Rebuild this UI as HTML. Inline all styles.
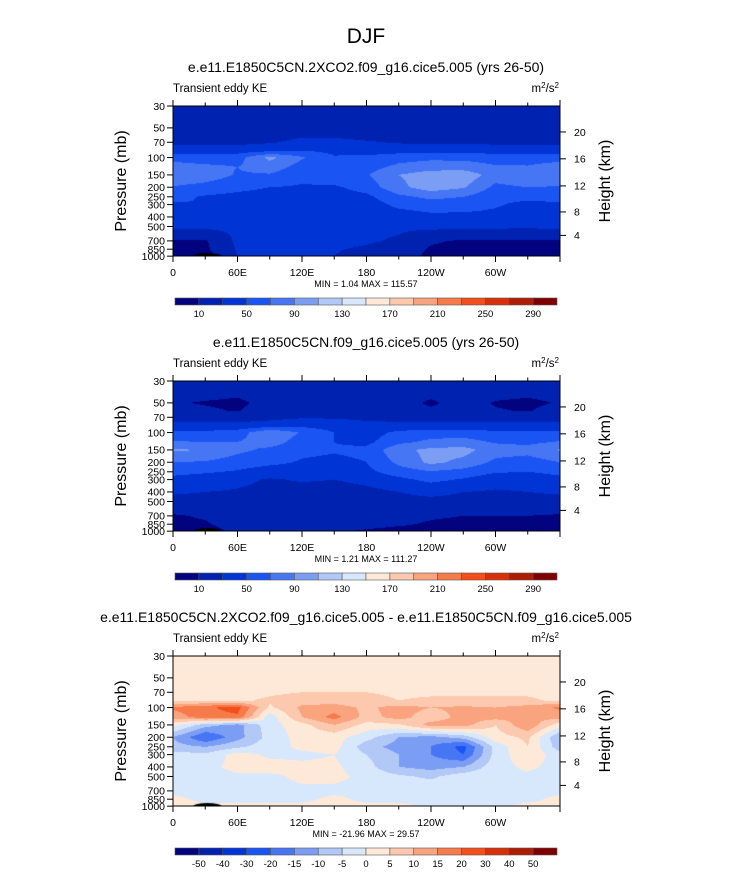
<!DOCTYPE html>
<html><head><meta charset="utf-8"><style>
html,body{margin:0;padding:0;background:#fff;}
#wrap{position:relative;width:733px;height:872px;overflow:hidden;font-family:"Liberation Sans",sans-serif;}
canvas{position:absolute;}
svg{position:absolute;left:0;top:0;}
</style></head><body>
<div id="wrap">
<canvas id="c0" width="387" height="150" style="left:173px;top:106px"></canvas>
<canvas id="c1" width="387" height="150" style="left:173px;top:381px"></canvas>
<canvas id="c2" width="387" height="150" style="left:173px;top:656px"></canvas>
<svg id="svg" width="733" height="872"></svg>
</div>
<script>
const lons = [0,30,60,90,120,150,180,210,240,270,300,330,360];
const pres = [30,50,60,70,85,100,125,150,200,250,300,400,500,700,850,1000];
const keLevels = [10,30,50,70,90,110,130,150,170,190,210,230,250,270,290];
const keLabels = ["10","50","90","130","170","210","250","290"];
const diffLevels = [-50,-40,-30,-20,-15,-10,-5,0,5,10,15,20,30,40,50];
const diffLabels = ["-50","-40","-30","-20","-15","-10","-5","0","5","10","15","20","30","40","50"];
const palette = ["#03037f","#0022b0","#0034d4","#1a55f4","#4676f4","#7b9ef4","#b2c9f8","#d8e8fc","#fee9d9","#fcc8ae","#f9a47e","#f67a4a","#f44e1c","#d9300a","#ae1c04","#7f0000"];
const pTicks = [30,50,70,100,150,200,250,300,400,500,700,850,1000];
const hTicks = [4,8,12,16,20];
const hPres = [616,356,194,103,55];
const xTickLabels = ["0","60E","120E","180","120W","60W"];
const titles = ["e.e11.E1850C5CN.2XCO2.f09_g16.cice5.005 (yrs 26-50)","e.e11.E1850C5CN.f09_g16.cice5.005 (yrs 26-50)","e.e11.E1850C5CN.2XCO2.f09_g16.cice5.005 - e.e11.E1850C5CN.f09_g16.cice5.005"];
const minmax = ["MIN =   1.04  MAX = 115.57","MIN =   1.21  MAX = 111.27","MIN = -21.96  MAX = 29.57"];
const field2x = [
[20,20,20,20,20,20,20,20,20,20,20,20,20],
[20,20,20,20,20,20,20,20,20,20,20,20,20],
[22,22,22,22,28,28,24,22,22,22,22,22,22],
[25,25,25,28,35,35,32,28,27,27,26,26,25],
[40,40,40,45,50,45,40,42,42,42,40,40,40],
[62,58,62,95,72,52,55,62,65,65,62,60,62],
[80,75,70,80,62,55,62,75,82,80,72,72,80],
[90,82,68,68,55,65,68,90,100,104,80,88,90],
[68,62,55,50,48,47,58,85,100,92,65,70,68],
[55,48,45,43,42,42,45,65,75,70,55,55,55],
[48,50,42,38,40,38,40,55,60,58,52,45,48],
[40,42,38,48,35,32,35,40,45,45,45,42,40],
[35,35,33,33,32,32,32,33,35,35,34,33,35],
[8,8,34,34,34,34,32,28,12,8,8,8,8],
[6,6,32,32,32,31,28,22,8,6,6,6,6],
[2,2,30,31,31,30,25,20,5,5,5,5,2]];
const fieldCtl = [
[20,20,20,20,20,20,20,20,20,20,20,20,20],
[11,9,7,15,20,20,20,15,8,15,9,7,11],
[16,12,9,18,20,20,20,18,12,18,11,9,16],
[22,22,22,24,28,28,26,24,24,24,24,24,22],
[35,35,35,40,45,40,35,35,35,35,35,35,35],
[55,55,60,88,68,50,40,55,60,60,55,55,55],
[72,70,70,80,60,50,45,65,75,78,68,65,72],
[92,90,75,65,55,52,55,85,95,97,80,78,92],
[70,68,60,55,48,45,50,75,95,85,65,60,70],
[55,52,48,40,42,40,45,60,68,62,52,50,55],
[45,42,35,28,32,30,35,45,55,48,38,38,45],
[32,30,28,25,22,22,25,30,35,30,28,30,32],
[25,25,25,22,22,22,22,25,25,25,25,25,25],
[8,12,22,22,22,22,20,18,12,10,10,10,8],
[6,8,18,20,20,18,15,12,8,6,6,6,6],
[2,2,15,15,15,12,8,5,5,5,5,5,2]];
const fieldDiff = [
[2,2,2,2,2,2,2,2,2,2,2,2,2],
[2,2,2,2,2,2,2,2,2,2,2,2,2],
[2,2,2,2,2,2,2,2,2,2,2,2,2],
[3,3,3,4,5,5,5,4,4,4,4,4,3],
[4,4,4,6,8,8,7,5,6,6,6,6,4],
[16,19,22,4,11,12,9,12,10,11,10,12,16],
[12,18,19,-3,10,17,8,12,7,12,12,11,12],
[2,-8,-12,-2,3,10,3,4,12,12,5,14,2],
[-10,-20,-12,-3,2,2,-3,-10,-12,-8,3,6,-10],
[-8,-10,-6,-2,1,2,-8,-12,-15,-22,-3,5,-8],
[-3,-4,2,-1,-1,0,-5,-10,-15,-20,-3,4,-3],
[-2,-2,2,2,1,1,-3,-10,-12,-10,-2,1,-2],
[-2,-3,-1,-1,1,1,-1,-4,-6,-2,-1,-1,-2],
[-1,-1,-2,-1,-1,-1,-1,-2,-1,-1,-2,-1,-1],
[1,-1,-1,-1,-1,1,-1,-1,-1,-2,-1,-1,1],
[1,1,1,1,1,1,1,1,-1,-1,-1,1,1]];

const PX0=173, PW=387, PH=150, DEC=98.6;
function yOfP(p){return DEC*Math.log10(p/30);}
function xOfLon(l){return l/360*PW;}
const logP = pres.map(p=>Math.log10(p));
function sample(field, lon, lp){
  let i=Math.min(11,Math.floor(lon/30)); let fx=(lon-lons[i])/30;
  let j=0; while(j<pres.length-2 && lp>logP[j+1]) j++;
  let fy=(lp-logP[j])/(logP[j+1]-logP[j]); fy=Math.max(0,Math.min(1,fy));
  const a=field[j][i],b=field[j][i+1],c=field[j+1][i],d=field[j+1][i+1];
  return (a*(1-fx)+b*fx)*(1-fy)+(c*(1-fx)+d*fx)*fy;
}
function colorIdx(v,levels){let k=0;while(k<levels.length&&v>=levels[k])k++;return k;}
function hex(h){return [parseInt(h.substr(1,2),16),parseInt(h.substr(3,2),16),parseInt(h.substr(5,2),16)];}
const rgb=palette.map(hex);
function drawField(id,field,levels){
  const cv=document.getElementById(id),ctx=cv.getContext('2d');
  const img=ctx.createImageData(PW,PH);
  for(let y=0;y<PH;y++){const lp=Math.log10(30)+(y+0.5)/DEC;
    for(let x=0;x<PW;x++){const lon=(x+0.5)/PW*360;
      const c=rgb[colorIdx(sample(field,lon,lp),levels)];const o=(y*PW+x)*4;
      img.data[o]=c[0];img.data[o+1]=c[1];img.data[o+2]=c[2];img.data[o+3]=255;}}
  ctx.putImageData(img,0,0);
  ctx.fillStyle='#000';ctx.beginPath();ctx.ellipse(xOfLon(32),PH,14,3,0,0,Math.PI*2);ctx.fill();
}
drawField('c0',field2x,keLevels);
drawField('c1',fieldCtl,keLevels);
drawField('c2',fieldDiff,diffLevels);

const svg=document.getElementById('svg');const NS='http://www.w3.org/2000/svg';
function el(tag,attrs,txt){const e=document.createElementNS(NS,tag);for(const k in attrs)e.setAttribute(k,attrs[k]);if(txt!==undefined)e.textContent=txt;svg.appendChild(e);return e;}
let t=el('text',{x:366,y:43,'font-size':21,'text-anchor':'middle'},'DJF');


[0,1,2].forEach(k=>{
  const T=106+275*k;
  const s=el('text',{x:366,y:T-34,'font-size':14,'text-anchor':'middle'},titles[k]);
  
  
  const a=el('text',{x:PX0,y:T-14,'font-size':11.5},'Transient eddy KE');
  
  
  const u=el('text',{x:559,y:T-14,'font-size':11.5,'text-anchor':'end'});
  u.innerHTML='m<tspan dy="-4" font-size="8">2</tspan><tspan dy="4">/s</tspan><tspan dy="-4" font-size="8">2</tspan>';
  
  
  const fr=el('rect',{x:PX0,y:T,width:PW,height:PH,fill:'none',stroke:'#000','stroke-width':1});
  
  
  for(let l=0;l<=360;l+=30){const x=PX0+xOfLon(l);const L=(l%60===0)?6:3.5;
    el('line',{x1:x,y1:T,x2:x,y2:T-L,stroke:'#000'});el('line',{x1:x,y1:T+PH,x2:x,y2:T+PH+L,stroke:'#000'});}
  xTickLabels.forEach((lb,i)=>{const xl=el('text',{x:PX0+xOfLon(i*60),y:T+PH+20,'font-size':10.5,'text-anchor':'middle'},lb);
    
    });
  pTicks.forEach(p=>{const y=T+yOfP(p);el('line',{x1:PX0-6,y1:y,x2:PX0,y2:y,stroke:'#000'});
    const pl=el('text',{x:PX0-8,y:y+3.8,'font-size':10.5,'text-anchor':'end'},String(p));
    
    });
  hTicks.forEach((h,i)=>{const y=T+yOfP(hPres[i]);el('line',{x1:PX0+PW,y1:y,x2:PX0+PW+6,y2:y,stroke:'#000'});
    const hl=el('text',{x:PX0+PW+14,y:y+3.8,'font-size':10.5},String(h));
    
    });
  const yt=el('text',{x:0,y:0,'font-size':16,'text-anchor':'middle',transform:`translate(126,${T+75}) rotate(-90)`},'Pressure (mb)');
  
  
  const ht=el('text',{x:0,y:0,'font-size':16,'text-anchor':'middle',transform:`translate(610,${T+75}) rotate(-90)`},'Height (km)');
  
  
  const mm=el('text',{x:366,y:T+PH+31,'font-size':9,'text-anchor':'middle','xml:space':'preserve'},minmax[k]);
  
  
  const by=T+192,bx=175,bw=382,cw=bw/16;
  palette.forEach((c,i)=>{const r=el('rect',{x:bx+i*cw,y:by,width:cw,height:7,fill:c,stroke:'#555','stroke-width':0.6});
    
    });
  if(k<2){keLabels.forEach((lb,i)=>{const cl=el('text',{x:bx+(2*i+1)*cw,y:by+19,'font-size':9.5,'text-anchor':'middle'},lb);
    
    });}
  else{diffLabels.forEach((lb,i)=>{const cl=el('text',{x:bx+(i+1)*cw,y:by+19,'font-size':9.5,'text-anchor':'middle'},lb);
    
    });}
});
</script>
</body></html>
